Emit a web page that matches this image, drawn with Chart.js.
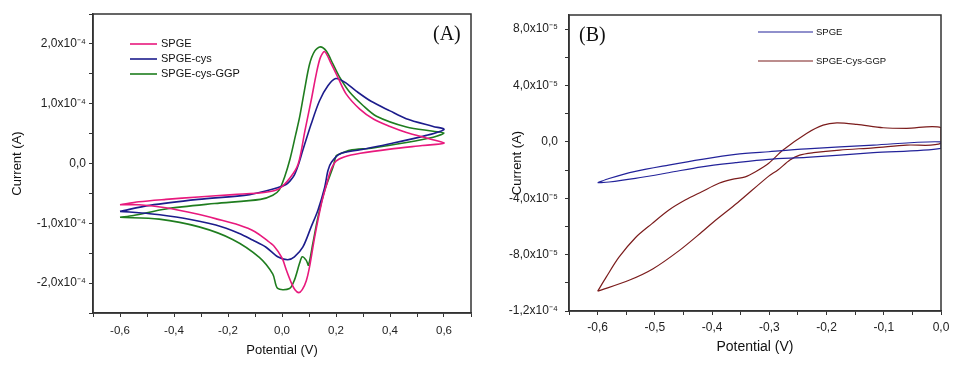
<!DOCTYPE html>
<html>
<head>
<meta charset="utf-8">
<script src="https://cdn.jsdelivr.net/npm/chart.js@4"></script>
<style>
  html, body { margin: 0; padding: 0; background: #fff; }
  #wrap { position: relative; width: 959px; height: 368px; }
  canvas { position: absolute; top: 0; }
  #chartA { left: 0; }
  #chartB { left: 480px; }
</style>
</head>
<body>
<div id="wrap">
  <canvas id="chartA" width="480" height="368"></canvas>
  <canvas id="chartB" width="479" height="368"></canvas>
</div>
<script>
// Potentials in V, currents in µA, each loop in scan order

// (A) SPGE
const spgeA_V = [-0.60, -0.53, -0.43, -0.31, -0.18, -0.06, -0.01, 0.03, 0.06, 0.085, 0.11, 0.127, 0.142, 0.158, 0.183, 0.207, 0.238, 0.288, 0.34, 0.40, 0.461, 0.548, 0.60,
                 0.52, 0.40, 0.29, 0.23, 0.20, 0.18, 0.165, 0.146, 0.121, 0.102, 0.09, 0.075, 0.062, 0.048, 0.035, 0.016, 0.0, -0.03, -0.06, -0.10, -0.16, -0.24, -0.31, -0.43, -0.53, -0.60];
const spgeA_I = [-69, -64, -60, -56, -52, -48, -42, -24, -1, 55, 110, 150, 177, 187, 166, 144, 116, 91, 74, 62, 52, 41, 34,
                 30, 24, 17, 11, 4, -12, -35, -67, -123, -173, -196, -211, -216, -211, -200, -178, -158, -138, -127, -114, -103, -93, -85, -74, -69, -69];

// (A) SPGE-cys
const cysA_V = [-0.60, -0.49, -0.31, -0.12, -0.02, 0.015, 0.03, 0.045, 0.06, 0.077, 0.108, 0.139, 0.170, 0.199, 0.232, 0.275, 0.33, 0.40, 0.46, 0.56, 0.60,
                0.535, 0.40, 0.29, 0.214, 0.183, 0.17, 0.158, 0.133, 0.108, 0.077, 0.046, 0.021, -0.016, -0.059, -0.109, -0.158, -0.245, -0.369, -0.49, -0.60];
const cysA_I = [-80, -70, -60, -52, -41, -35, -29, -20, -3, 22, 66, 105, 130, 142, 136, 121, 104, 88, 75, 62, 57,
                47, 33, 23, 16, 2, -12, -40, -78, -106, -140, -156, -161, -156, -140, -128, -117, -103, -91, -84, -80];

// (A) SPGE-cys-GGP
const ggpA_V = [-0.60, -0.55, -0.43, -0.25, -0.08, -0.034, -0.01, 0.01, 0.03, 0.05, 0.065, 0.083, 0.102, 0.121, 0.142, 0.164, 0.189, 0.214, 0.251, 0.30, 0.35, 0.461, 0.56, 0.60,
                0.56, 0.461, 0.337, 0.251, 0.214, 0.201, 0.189, 0.158, 0.133, 0.114, 0.098, 0.09, 0.075, 0.065, 0.046, 0.028, -0.016, -0.034, -0.084, -0.183, -0.307, -0.455, -0.60];
const ggpA_I = [-90, -87, -76, -67, -60, -53, -44, -22, 8, 47, 77, 122, 166, 188, 195, 188, 166, 144, 119, 97, 79, 61, 54, 51,
                44, 35, 26, 22, 16, 13, -6, -45, -90, -134, -170, -162, -156, -167, -195, -209, -209, -185, -157, -127, -106, -93, -90];

// (B) SPGE
const spgeB_V = [-0.60, -0.58, -0.534, -0.476, -0.418, -0.359, -0.301, -0.235, -0.118, 0.0,
                 0.0, -0.118, -0.235, -0.301, -0.359, -0.418, -0.476, -0.534, -0.58, -0.60];
const spgeB_I = [-29, -26, -21, -16.5, -12.4, -8.9, -7, -5, -2.3, 0,
                 -4.6, -7.7, -11, -12.4, -14.8, -17.7, -21.9, -25.9, -28.5, -29];

// (B) SPGE-Cys-GGP
const ggpB_V = [-0.60, -0.585, -0.563, -0.534, -0.505, -0.476, -0.447, -0.418, -0.388, -0.365, -0.342, -0.324, -0.301, -0.276, -0.235, -0.206, -0.182, -0.147, -0.101, -0.06, 0.0,
                0.0, -0.06, -0.118, -0.177, -0.223, -0.247, -0.264, -0.285, -0.301, -0.355, -0.398, -0.418, -0.457, -0.503, -0.544, -0.60];
const ggpB_I = [-106, -96, -82, -68, -58, -48.5, -41.3, -35.4, -29.4, -26.6, -24.8, -21.2, -15.2, -5.8, 6, 11.9, 13.5, 12.4, 10, 9.6, 10,
                -1.1, -2.3, -4.2, -5.8, -7.7, -9.4, -12.9, -20, -24.3, -43, -57, -64, -77, -90, -98, -106];

const labelsA = ['SPGE', 'SPGE-cys', 'SPGE-cys-GGP'];
const labelsB = ['SPGE', 'SPGE-Cys-GGP'];

const FONT = '"Liberation Sans", Arial, sans-serif';
const SUP = { '-': '\u207B', '0': '\u2070', '1': '\u00B9', '2': '\u00B2', '3': '\u00B3', '4': '\u2074', '5': '\u2075', '6': '\u2076', '7': '\u2077', '8': '\u2078', '9': '\u2079' };

function pts(xs, ys) {
  return xs.map((x, i) => ({ x: x, y: ys[i] }));
}

function fmtV(v) {
  if (Math.abs(v) < 1e-9) v = 0;
  return v.toFixed(1).replace('.', ',');
}

// µA -> "2,0x10⁻⁴" style label
function fmtI(v, major) {
  const k = Math.round(v);
  if (k % major !== 0) return '';
  if (k === 0) return '0,0';
  const a = k * 1e-6;
  const e = Math.floor(Math.log10(Math.abs(a)) + 1e-9);
  const m = a / Math.pow(10, e);
  return m.toFixed(1).replace('.', ',') + 'x10' + String(e).split('').map(c => SUP[c]).join('');
}

// closed box around the plot area
const frame = {
  id: 'frame',
  afterDatasetsDraw(chart) {
    const { ctx, chartArea: a } = chart;
    ctx.save();
    ctx.strokeStyle = '#333';
    ctx.lineWidth = 1.5;
    ctx.strokeRect(a.left, a.top, a.right - a.left, a.bottom - a.top);
    ctx.restore();
  }
};

// legend drawn inside the plot + panel tag
const lineLegend = {
  id: 'lineLegend',
  afterDraw(chart, args, o) {
    const ctx = chart.ctx;
    ctx.save();
    ctx.font = o.font;
    ctx.textBaseline = 'middle';
    chart.data.datasets.forEach((ds, i) => {
      const y = o.y + i * o.gap;
      ctx.strokeStyle = ds.borderColor;
      ctx.lineWidth = o.lineWidth;
      ctx.beginPath();
      ctx.moveTo(o.x, y);
      ctx.lineTo(o.x + o.len, y);
      ctx.stroke();
      ctx.fillStyle = '#111';
      ctx.fillText(ds.label, o.x + o.len + o.textGap, y);
    });
    ctx.font = o.tagFont;
    ctx.fillStyle = '#111';
    ctx.fillText(o.tag, o.tagX, o.tagY);
    ctx.restore();
  }
};

function series(label, xs, ys, color, width) {
  return {
    label: label,
    data: pts(xs, ys),
    showLine: true,
    borderColor: color,
    backgroundColor: color,
    borderWidth: width,
    pointRadius: 0,
    tension: 0.3,
    fill: false
  };
}

function axis(extra) {
  return Object.assign({
    type: 'linear',
    grid: { drawOnChartArea: false, tickLength: 4, color: '#333' },
    border: { color: '#333', width: 1.5 }
  }, extra);
}

new Chart(document.getElementById('chartA'), {
  type: 'scatter',
  data: {
    datasets: [
      series(labelsA[0], spgeA_V, spgeA_I, '#e8197d', 1.6),
      series(labelsA[1], cysA_V, cysA_I, '#1c1c8c', 1.6),
      series(labelsA[2], ggpA_V, ggpA_I, '#1f7d1f', 1.6)
    ]
  },
  options: {
    responsive: false,
    devicePixelRatio: 1,
    animation: false,
    layout: { padding: { top: 14, right: 9, left: 0, bottom: 0 } },
    plugins: {
      legend: { display: false },
      tooltip: { enabled: false },
      lineLegend: { x: 130, y: 44, gap: 15, len: 27, textGap: 4, lineWidth: 1.6,
                    font: '11px ' + FONT, tag: '(A)', tagX: 433, tagY: 35, tagFont: '20px "Liberation Serif", serif' }
    },
    scales: {
      x: axis({
        min: -0.7, max: 0.7,
        afterFit(s) { s.height = 55; },
        ticks: { stepSize: 0.1, autoSkip: false, maxRotation: 0, padding: 7, color: '#222', font: { family: FONT, size: 11.5 },
                 callback: v => (Math.round(v * 10) % 2 === 0 ? fmtV(v) : '') },
        title: { display: true, text: 'Potential (V)', color: '#111', font: { family: FONT, size: 13 }, padding: { top: 0, bottom: 10 } }
      }),
      y: axis({
        min: -250, max: 250,
        afterFit(s) { s.width = 93; },
        ticks: { stepSize: 50, autoSkip: false, padding: 3, color: '#222', font: { family: FONT, size: 12 },
                 callback: v => fmtI(v, 100) },
        title: { display: true, text: 'Current (A)', color: '#111', font: { family: FONT, size: 13 }, padding: { top: 10, bottom: 0 } }
      })
    }
  },
  plugins: [frame, lineLegend]
});

new Chart(document.getElementById('chartB'), {
  type: 'scatter',
  data: {
    datasets: [
      series(labelsB[0], spgeB_V, spgeB_I, '#23239a', 1.2),
      series(labelsB[1], ggpB_V, ggpB_I, '#7b1c1c', 1.2)
    ]
  },
  options: {
    responsive: false,
    devicePixelRatio: 1,
    animation: false,
    layout: { padding: { top: 15, right: 18, left: 0, bottom: 0 } },
    plugins: {
      legend: { display: false },
      tooltip: { enabled: false },
      lineLegend: { x: 278, y: 32, gap: 29, len: 55, textGap: 3, lineWidth: 1.2,
                    font: '9.5px ' + FONT, tag: '(B)', tagX: 99, tagY: 36, tagFont: '20px "Liberation Serif", serif' }
    },
    scales: {
      x: axis({
        min: -0.65, max: 0,
        afterFit(s) { s.height = 57; },
        ticks: { stepSize: 0.05, autoSkip: false, maxRotation: 0, padding: 5, color: '#222', font: { family: FONT, size: 12 },
                 callback: v => (Math.round(v * 100) % 10 === 0 ? fmtV(v) : '') },
        title: { display: true, text: 'Potential (V)', color: '#111', font: { family: FONT, size: 14 }, padding: { top: 0, bottom: 12.6 } }
      }),
      y: axis({
        min: -120, max: 90,
        afterFit(s) { s.width = 89; },
        ticks: { stepSize: 20, includeBounds: false, autoSkip: false, padding: 7, color: '#222', font: { family: FONT, size: 12 },
                 callback: v => fmtI(v, 40) },
        title: { display: true, text: 'Current (A)', color: '#111', font: { family: FONT, size: 13 }, padding: { top: 30, bottom: 0 } }
      })
    }
  },
  plugins: [frame, lineLegend]
});
</script>
</body>
</html>
